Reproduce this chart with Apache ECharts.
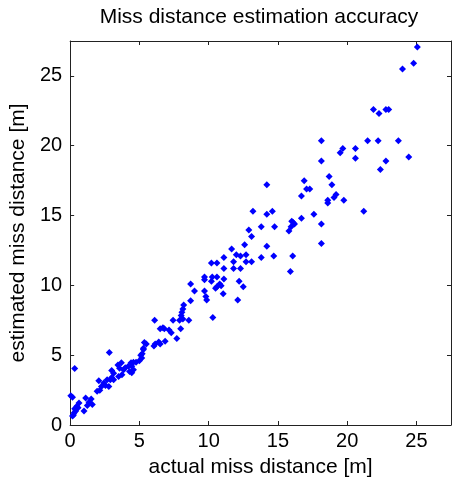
<!DOCTYPE html>
<html>
<head>
<meta charset="utf-8">
<script src="https://cdn.jsdelivr.net/npm/echarts@6/dist/echarts.min.js"></script>
<style>html,body{margin:0;padding:0;background:#fff;}#c{width:452px;height:483px;}</style>
</head>
<body>
<div id="c"></div>
<script>
var titleText = 'Miss distance estimation accuracy';
var xName = 'actual miss distance [m]';
var yName = 'estimated miss distance [m]';
var xTicks = [0, 5, 10, 15, 20, 25];
var yTicks = [0, 5, 10, 15, 20, 25];

var actualDist = [
25.07,24.8,24.0,21.9,22.3,22.8,23.0,
18.14,21.48,22.24,23.7,
19.69,19.5,20.6,20.6,
18.14,22.8,24.45,22.4,
18.7,16.9,18.9,17.07,17.3,16.7,
19.2,19.05,18.6,18.6,19.76,
21.2,18.14,18.14,15.9,16.07,
14.2,14.7,13.8,13.1,
13.8,14.76,15.8,15.95,16.0,16.2,16.7,16.1,
14.2,17.6,13.2,14.2,14.6,
12.9,13.1,12.6,
11.66,12.0,12.3,12.7,11.8,12.7,
11.1,10.2,10.6,11.1,11.8,12.3,
9.7,9.7,10.26,10.6,11.1,10.2,8.7,10.8,12.2,
10.6,10.9,10.5,12.5,8.98,9.7,9.8,11.05,
9.86,8.7,12.1,
8.2,8.14,8.07,8.02,8.14,7.9,7.43,8.57,10.3,6.1,
7.98,6.5,6.7,6.8,7.14,7.3,7.7,
5.36,5.5,6.05,6.14,6.4,6.5,6.86,5.29,5.1,
5.29,5.2,2.83,0.33,5.17,5.0,4.76,4.57,4.4,4.45,4.2,3.98,3.7,3.45,3.86,3.57,3.0,3.14,
4.57,4.45,4.29,3.74,3.5,3.0,2.9,3.14,2.67,2.07,2.43,2.55,2.26,2.14,2.79,1.95,
1.12,1.52,1.36,1.24,1.6,0.05,0.17,0.64,0.48,0.33,0.4,0.29,0.24,1.0,0.57,0.17
];
var estimatedDist = [
27.07,25.9,25.5,22.6,22.3,22.6,22.6,
20.36,20.36,20.36,20.36,
19.8,19.5,19.8,19.1,
18.9,18.9,19.2,18.3,
17.8,17.5,17.2,16.9,16.9,16.4,
16.5,16.3,16.1,15.9,16.1,
15.3,14.4,13.0,11.0,12.1,
12.8,12.1,12.0,11.7,
14.2,14.2,13.9,14.2,14.6,14.4,14.8,14.5,
17.2,15.1,15.3,15.1,15.3,
13.96,13.5,12.9,
12.6,12.2,12.1,12.2,11.7,11.7,
12.0,11.6,11.6,11.2,11.2,11.2,
10.6,10.4,10.6,10.6,10.45,10.3,10.1,10.1,10.3,
9.9,9.97,9.8,9.9,9.6,9.6,9.2,9.4,
8.95,8.9,8.95,
8.6,8.3,8.08,7.85,7.6,7.5,7.5,7.5,7.7,7.5,
6.9,6.9,6.97,6.9,6.8,6.6,6.2,
5.9,5.8,5.65,5.8,5.95,5.8,6.0,5.5,5.0,
5.4,5.1,5.2,4.04,4.8,4.6,4.5,4.5,4.46,4.2,4.2,4.1,4.46,4.3,3.95,4.06,3.9,3.7,
3.95,3.75,3.83,3.6,3.47,3.4,3.24,3.24,3.24,3.17,3.0,2.83,2.76,2.48,2.76,2.41,
1.94,1.87,1.63,1.4,1.47,2.1,1.98,1.58,1.35,1.16,1.0,0.87,0.71,1.0,1.23,0.64
];

var points = actualDist.map(function (x, i) { return [x, estimatedDist[i]]; });

var FONT = 'Liberation Sans';
function tickFmt(list) {
  return function (v) { return list.indexOf(v) >= 0 ? String(v) : ''; };
}
var chart = echarts.init(document.getElementById('c'), null, {renderer: 'canvas'});
var axisLineStyle = {color: '#222', width: 1};
chart.setOption({
  animation: false,
  backgroundColor: '#fff',
  title: {
    text: titleText, left: 259, top: 7, textAlign: 'center', padding: 0,
    textStyle: {fontFamily: FONT, fontSize: 21, fontWeight: 'normal', color: '#000'}
  },
  grid: {left: 66, right: 1, top: 41, bottom: 54, containLabel: false},
  xAxis: [{
    type: 'value', min: 0, max: 27.5, interval: 5, position: 'bottom',
    name: xName, nameLocation: 'middle', nameGap: 32,
    nameTextStyle: {fontFamily: FONT, fontSize: 21, color: '#000'},
    axisLine: {show: true, onZero: false, lineStyle: axisLineStyle},
    axisTick: {show: true, inside: true, length: 4, lineStyle: axisLineStyle},
    axisLabel: {fontFamily: FONT, fontSize: 20, color: '#000', margin: 6, formatter: tickFmt(xTicks), showMaxLabel: false},
    splitLine: {show: false}
  }, {
    type: 'value', min: 0, max: 27.5, interval: 5, position: 'top',
    axisLine: {show: true, onZero: false, lineStyle: axisLineStyle},
    axisTick: {show: true, inside: true, length: 4, lineStyle: axisLineStyle},
    axisLabel: {show: false}, splitLine: {show: false}
  }],
  yAxis: [{
    type: 'value', min: 0, max: 27.5, interval: 5, position: 'left',
    name: yName, nameLocation: 'middle', nameGap: 36,
    nameTextStyle: {fontFamily: FONT, fontSize: 21, color: '#000'},
    axisLine: {show: true, onZero: false, lineStyle: axisLineStyle},
    axisTick: {show: true, inside: true, length: 4, lineStyle: axisLineStyle},
    axisLabel: {fontFamily: FONT, fontSize: 20, color: '#000', margin: 8, formatter: tickFmt(yTicks), showMaxLabel: false},
    splitLine: {show: false}
  }, {
    type: 'value', min: 0, max: 27.5, interval: 5, position: 'right',
    axisLine: {show: true, onZero: false, lineStyle: axisLineStyle},
    axisTick: {show: true, inside: true, length: 4, lineStyle: axisLineStyle},
    axisLabel: {show: false}, splitLine: {show: false}
  }],
  series: [{
    type: 'scatter', xAxisIndex: 0, yAxisIndex: 0,
    data: points, symbol: 'diamond', symbolSize: 7,
    itemStyle: {color: '#0000ff', opacity: 1}
  }]
});
</script>
</body>
</html>
